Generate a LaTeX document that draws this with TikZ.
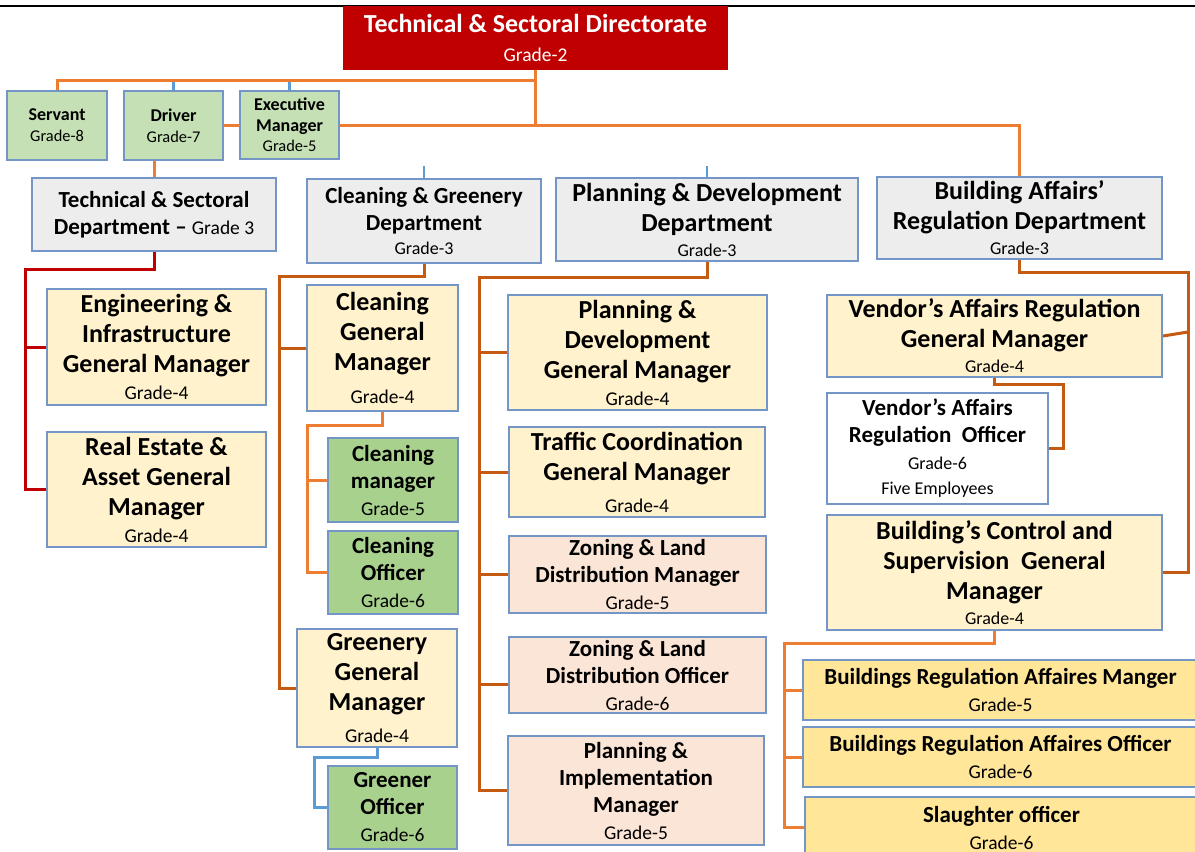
\documentclass[tikz,border=0pt]{standalone}
\usepackage{fontspec}
\setmainfont{Carlito}
\usetikzlibrary{calc}
\pgfdeclarelayer{bg}
\pgfsetlayers{bg,main}
\definecolor{bordc}{HTML}{7396C6}
\definecolor{dirred}{HTML}{C00000}
\definecolor{grayf}{HTML}{EDEDED}
\definecolor{yelf}{HTML}{FFF2CC}
\definecolor{yel2}{HTML}{FFE699}
\definecolor{lgf}{HTML}{C5E0B4}
\definecolor{grf}{HTML}{A9D18E}
\definecolor{pchf}{HTML}{FBE5D6}
\definecolor{orc}{HTML}{ED7D31}
\definecolor{dorc}{HTML}{C55A11}
\definecolor{blc}{HTML}{5B9BD5}
\newcommand\fA{\fontsize{26}{30}\selectfont\bfseries}
\newcommand\fB{\fontsize{23}{27}\selectfont\bfseries}
\newcommand\fS{\fontsize{18}{21}\selectfont\bfseries}
\newcommand\gA{\fontsize{19.5}{23}\selectfont\mdseries}
\newcommand\gB{\fontsize{18}{21}\selectfont\mdseries}
\newcommand\gS{\fontsize{16.4}{20}\selectfont\mdseries}
\newcommand\bx[7]{%
  \pgfmathsetmacro\bw{#4-#2}\pgfmathsetmacro\bh{#5-#3}%
  \node[#6, minimum width=\bw pt, minimum height=\bh pt] (#1) at ({(#2+#4)/2},{(#3+#5)/2}) {#7};}
\begin{document}
\begin{tikzpicture}[x=1pt,y=-1pt,
  boxs/.style={draw=bordc, line width=1.8pt, align=center, inner sep=0pt, text=black},
  dirs/.style={boxs, draw=dirred, fill=dirred, text=white, font=\fA},
  gy/.style={boxs, fill=grayf},
  yl/.style={boxs, fill=yelf},
  yy/.style={boxs, fill=yel2},
  lg/.style={boxs, fill=lgf, font=\fS},
  gr/.style={boxs, fill=grf, font=\fB},
  pc/.style={boxs, fill=pchf, font=\fB},
  wh/.style={boxs, fill=white, font=\fB},
  oc/.style={draw=orc, line width=3pt},
  dc/.style={draw=dorc, line width=3pt},
  rc/.style={draw=dirred, line width=3pt},
  bc/.style={draw=blc, line width=3pt},
  bt/.style={draw=blc, line width=2.2pt}]
\useasboundingbox (0,0) rectangle (1195,852);
\clip (0,0) rectangle (1195,852);
\draw[black, line width=1.5pt] (0,6) -- (1195,6);

% top row
\bx{dir}{344}{7}{727}{69}{dirs}{Technical \& Sectoral Directorate\\[-1pt]{\gA Grade-2}}
\bx{ser}{7}{91}{107}{160}{lg}{Servant\\{\gS Grade-8}}
\bx{drv}{124}{91}{223}{160}{lg}{Driver\\{\gS Grade-7}}
\bx{exe}{240}{91}{339}{159}{lg, font={\fontsize{18}{20.5}\selectfont\bfseries}}{Executive\\Manager\\{\gS Grade-5}}

% departments
\bx{tsd}{32}{178}{276}{251}{gy, font=\fB}{Technical \& Sectoral\\Department – {\gA Grade 3}}
\bx{cgd}{307}{179}{541}{263}{gy, font=\fB}{Cleaning \& Greenery\\Department\\[-3pt]{\gB Grade-3}}
\bx{pdd}{556}{178}{858}{261}{gy, font=\fA}{Planning \& Development\\Department\\[-5pt]{\gB Grade-3}}
\bx{bad}{877}{177}{1162}{259}{gy, font=\fA}{Building Affairs’\\Regulation Department\\[-5pt]{\gB Grade-3}}

% column 1
\bx{eng}{47}{289}{266}{405}{yl, font=\fA}{Engineering \&\\Infrastructure\\General Manager\\[-3pt]{\gA Grade-4}}
\bx{rea}{47}{432}{266}{547}{yl, font=\fA}{Real Estate \&\\Asset General\\Manager\\[-3pt]{\gA Grade-4}}

% column 2
\bx{cgm}{307}{285}{458}{411}{yl, font=\fA}{Cleaning\\General\\Manager\\[3pt]{\gA Grade-4}}
\bx{cmg}{328}{438}{458}{522}{gr}{Cleaning\\manager\\{\gA Grade-5}}
\bx{cof}{328}{531}{458}{614}{gr}{Cleaning\\Officer\\{\gA Grade-6}}
\bx{ggm}{297}{629}{457}{747}{yl, font=\fA}{Greenery\\General\\Manager\\[2pt]{\gA Grade-4}}
\bx{gof}{328}{766}{457}{849}{gr}{Greener\\Officer\\{\gA Grade-6}}

% column 3
\bx{pdg}{508}{295}{767}{410}{yl, font=\fA}{Planning \&\\Development\\General Manager\\[-3pt]{\gA Grade-4}}
\bx{tcg}{509}{427}{765}{517}{yl, font=\fA}{Traffic Coordination\\General Manager\\[2pt]{\gA Grade-4}}
\bx{zlm}{509}{536}{766}{613}{pc}{Zoning \& Land\\Distribution Manager\\{\gA Grade-5}}
\bx{zlo}{509}{637}{766}{713}{pc}{Zoning \& Land\\Distribution Officer\\{\gA Grade-6}}
\bx{pim}{508}{736}{764}{845}{pc}{Planning \&\\Implementation\\Manager\\{\gA Grade-5}}

% column 4
\bx{vgm}{827}{295}{1162}{377}{yl, font=\fA}{Vendor’s Affairs Regulation\\General Manager\\[-5pt]{\gB Grade-4}}
\bx{vro}{827}{393}{1048}{504}{wh}{Vendor’s Affairs\\Regulation\ \ Officer\\{\gB Grade-6}\\[-2pt]{\gB Five Employees}}
\bx{bcs}{827}{515}{1162}{630}{yl, font=\fA}{Building’s Control and\\Supervision\ \ General\\Manager\\[-5pt]{\gB Grade-4}}
\bx{bram}{803}{660}{1198}{720}{yy, font=\fB}{Buildings Regulation Affaires Manger\\{\gA Grade-5}}
\bx{brao}{803}{727}{1198}{787}{yy, font=\fB}{Buildings Regulation Affaires Officer\\{\gA Grade-6}}
\bx{slo}{805}{797}{1198}{858}{yy, font=\fB}{Slaughter officer\\{\gA Grade-6}}

\begin{pgfonlayer}{bg}
\fill[white] (0,0) rectangle (1195,852);
% top connectors
\coordinate (j1) at (535.5,80);
\draw[bt] (drv.north) -- (drv.north |- j1);
\draw[bt] (exe.north) -- (exe.north |- j1);
\draw[oc] (ser.north) |- (j1) -- (dir.south);
\draw[oc] (dir.south) |- (drv.east);
\draw[oc] (dir.south |- drv.east) -| (bad.north);
\draw[oc] (tsd.north) -- (tsd.north |- drv.south);
\draw[bc, line width=2.5pt] (cgd.north) -- ++(0,-12);
\draw[bc, line width=2.5pt] (pdd.north) -- ++(0,-11);
% column 1
\coordinate (k1) at (25,269);
\draw[rc] (tsd.south) |- (k1) |- (rea.west);
\draw[rc] (eng.west) -- (eng.west -| k1);
% column 2
\coordinate (k2) at (279,276);
\draw[dc] (cgd.south) |- (k2) |- (ggm.west);
\draw[dc] (cgm.west) -- (cgm.west -| k2);
\coordinate (k3) at (307,425);
\draw[oc] (cgm.south) |- (k3) |- (cof.west);
\draw[oc] (cmg.west) -- (cmg.west -| k3);
\coordinate (k4) at (314,757);
\draw[bc] (ggm.south) |- (k4) |- (gof.west);
% column 3
\coordinate (k5) at (479,277);
\draw[dc] (pdd.south) |- (k5) |- (pim.west);
\draw[dc] (pdg.west) -- (pdg.west -| k5);
\draw[dc] (tcg.west) -- (tcg.west -| k5);
\draw[dc] (zlm.west) -- (zlm.west -| k5);
\draw[dc] ([yshift=-9pt]zlo.west) -- ([yshift=-9pt]zlo.west -| k5);
% column 4
\coordinate (k6) at (1188,272);
\draw[dc] (bad.south) |- (k6) |- (bcs.east);
\draw[dc] (vgm.east) -- ([yshift=4pt]vgm.east -| k6);
\coordinate (k7) at (1063,384);
\draw[dc] (vgm.south) |- (k7) |- (vro.east);
\coordinate (k8) at (784,643);
\draw[oc] (bcs.south) |- (k8) |- (slo.west);
\draw[oc] (bram.west) -- (bram.west -| k8);
\draw[oc] (brao.west) -- (brao.west -| k8);
\end{pgfonlayer}
\end{tikzpicture}
\end{document}
